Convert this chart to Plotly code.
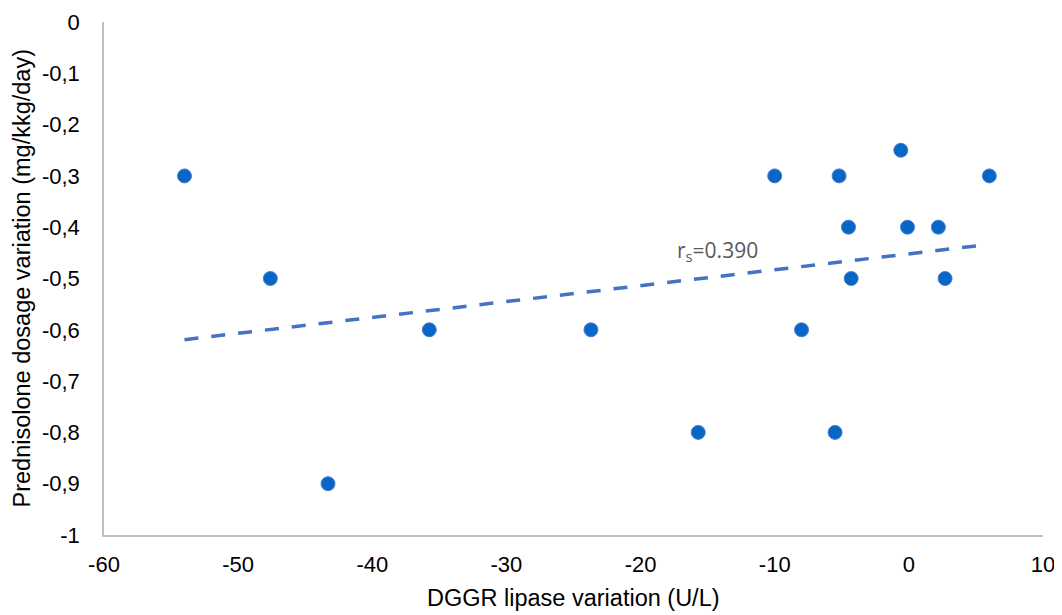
import numpy as np
import plotly.graph_objects as go

# Data
lipase_var = [-54.0, -47.6, -43.3, -35.75, -23.7, -15.7, -10.0, -8.0, -5.5, -5.2,
              -4.5, -4.3, -0.6, -0.1, 2.2, 2.7, 6.0]
pred_var = [-0.3, -0.5, -0.9, -0.6, -0.6, -0.8, -0.3, -0.6, -0.8, -0.3,
            -0.4, -0.5, -0.25, -0.4, -0.4, -0.5, -0.3]

x_tickvals = [-60, -50, -40, -30, -20, -10, 0, 10]
x_ticktext = ["-60", "-50", "-40", "-30", "-20", "-10", "0", "10"]
y_tickvals = [0, -0.1, -0.2, -0.3, -0.4, -0.5, -0.6, -0.7, -0.8, -0.9, -1]
y_ticktext = ["0", "-0,1", "-0,2", "-0,3", "-0,4", "-0,5", "-0,6", "-0,7", "-0,8", "-0,9", "-1"]

x_title = "DGGR lipase variation (U/L)"
y_title = "Prednisolone dosage variation (mg/kkg/day)"
rs_label = "r<sub>s</sub>=0.390"

# Linear trendline from the data
slope, intercept = np.polyfit(lipase_var, pred_var, 1)
trend_x = np.array([min(lipase_var), 5.0])
trend_y = slope * trend_x + intercept

font_family = "Liberation Sans, Arial, sans-serif"

fig = go.Figure()
fig.add_trace(go.Scatter(
    x=trend_x, y=trend_y, mode="lines",
    line=dict(color="#4472C4", width=3.5, dash="14px,13px"),
    hoverinfo="skip", showlegend=False,
))
fig.add_trace(go.Scatter(
    x=lipase_var, y=pred_var, mode="markers",
    marker=dict(size=14, color="#0866C6", line=dict(color="#4A7FD0", width=1)),
    showlegend=False,
))

fig.add_annotation(
    x=-14.3, y=-0.446, xref="x", yref="y", text=rs_label, showarrow=False,
    font=dict(family="Open Sans, sans-serif", size=21, color="#595959"),
)
# Axis titles
fig.add_annotation(
    x=0.5, y=0, xref="paper", yref="paper", text=x_title, showarrow=False,
    xanchor="center", yanchor="middle", yshift=-63,
    font=dict(family=font_family, size=23.5, color="#000000"),
)
fig.add_annotation(
    x=0, y=0.5, xref="paper", yref="paper", text=y_title, showarrow=False,
    textangle=-90, xanchor="center", yanchor="middle", xshift=-83,
    font=dict(family=font_family, size=23.5, color="#000000"),
)

fig.update_xaxes(
    range=[-60, 10], tickvals=x_tickvals, ticktext=x_ticktext, automargin=False,
    showgrid=False, zeroline=False, showline=True, linecolor="#BFBFBF", linewidth=1.5,
    ticks="outside", ticklen=9, tickcolor="rgba(0,0,0,0)",
    tickfont=dict(family=font_family, size=22, color="#000000"),
)
fig.update_yaxes(
    range=[-1, 0], tickvals=y_tickvals, ticktext=y_ticktext, automargin=False,
    showgrid=False, zeroline=False, showline=True, linecolor="#BFBFBF", linewidth=1.5,
    ticks="outside", ticklen=18, tickcolor="rgba(0,0,0,0)",
    tickfont=dict(family=font_family, size=22, color="#000000"),
)

# The page body adds an 8px offset; size and margins compensate for it
fig.update_layout(
    width=1054, height=607,
    margin=dict(l=96, r=19, t=14, b=80),
    plot_bgcolor="white", paper_bgcolor="white",
)

fig.write_html("out.html")
